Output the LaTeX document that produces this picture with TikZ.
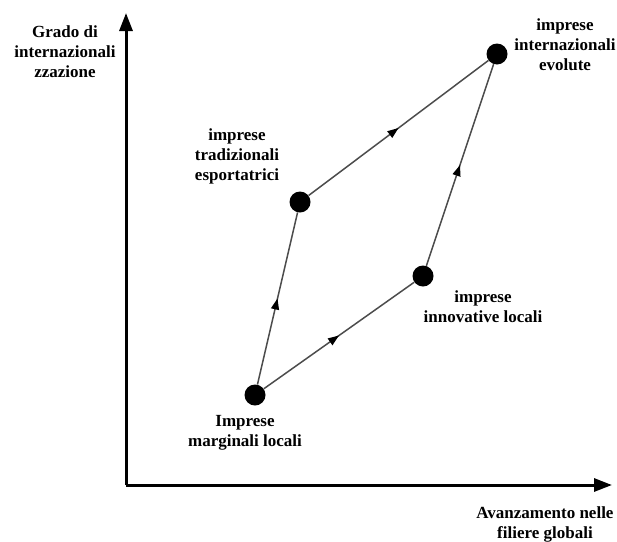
\documentclass[tikz,border=0pt]{standalone}
\usepackage{fontspec}
\setmainfont{Liberation Serif}
\usetikzlibrary{arrows.meta,decorations.markings}
\begin{document}
\begin{tikzpicture}[x=1pt,y=-1pt,
  lbl/.style={align=center,font=\fontsize{17}{20}\selectfont\bfseries,inner sep=0pt},
  firm/.style={circle,fill=black,minimum size=21pt,inner sep=0pt},
  axis/.style={line width=3pt,-{Triangle[length=18pt,width=13pt]}},
  edge/.style={draw=black!70,line width=1.5pt,postaction={decorate},
    decoration={markings,mark=at position 0.5 with {\arrow[black]{Triangle[length=11pt,width=8pt]}}}}]
\useasboundingbox (0,0) rectangle (617,541);
\clip (0,0) rectangle (617,541);
\coordinate (O) at (126,485);
\coordinate (ytip) at (126,13);
\coordinate (xtip) at (612,485);
\draw[axis] (O) -- (ytip);
\draw[axis] (O) -- (xtip);
\node[firm] (marg) at (255,395) {};
\node[firm] (innov) at (423,276) {};
\node[firm] (trad) at (300,202) {};
\node[firm] (evol) at (497,54) {};
\draw[edge] (marg) -- (trad);
\draw[edge] (marg) -- (innov);
\draw[edge] (trad) -- (evol);
\draw[edge] (innov) -- (evol);
\node[lbl] (lgrado) at (65,52) {Grado di\\internazionali\\zzazione};
\node[lbl] (levol) at (565,45) {imprese\\internazionali\\evolute};
\node[lbl] (ltrad) at (237,156) {imprese\\tradizionali\\esportatrici};
\node[lbl] (lmarg) at (245,433) {Imprese\\marginali locali};
\node[lbl] (linnov) at (483,307) {imprese\\innovative locali};
\node[lbl] (lavan) at (545,524) {Avanzamento nelle\\filiere globali};
\end{tikzpicture}
\end{document}
